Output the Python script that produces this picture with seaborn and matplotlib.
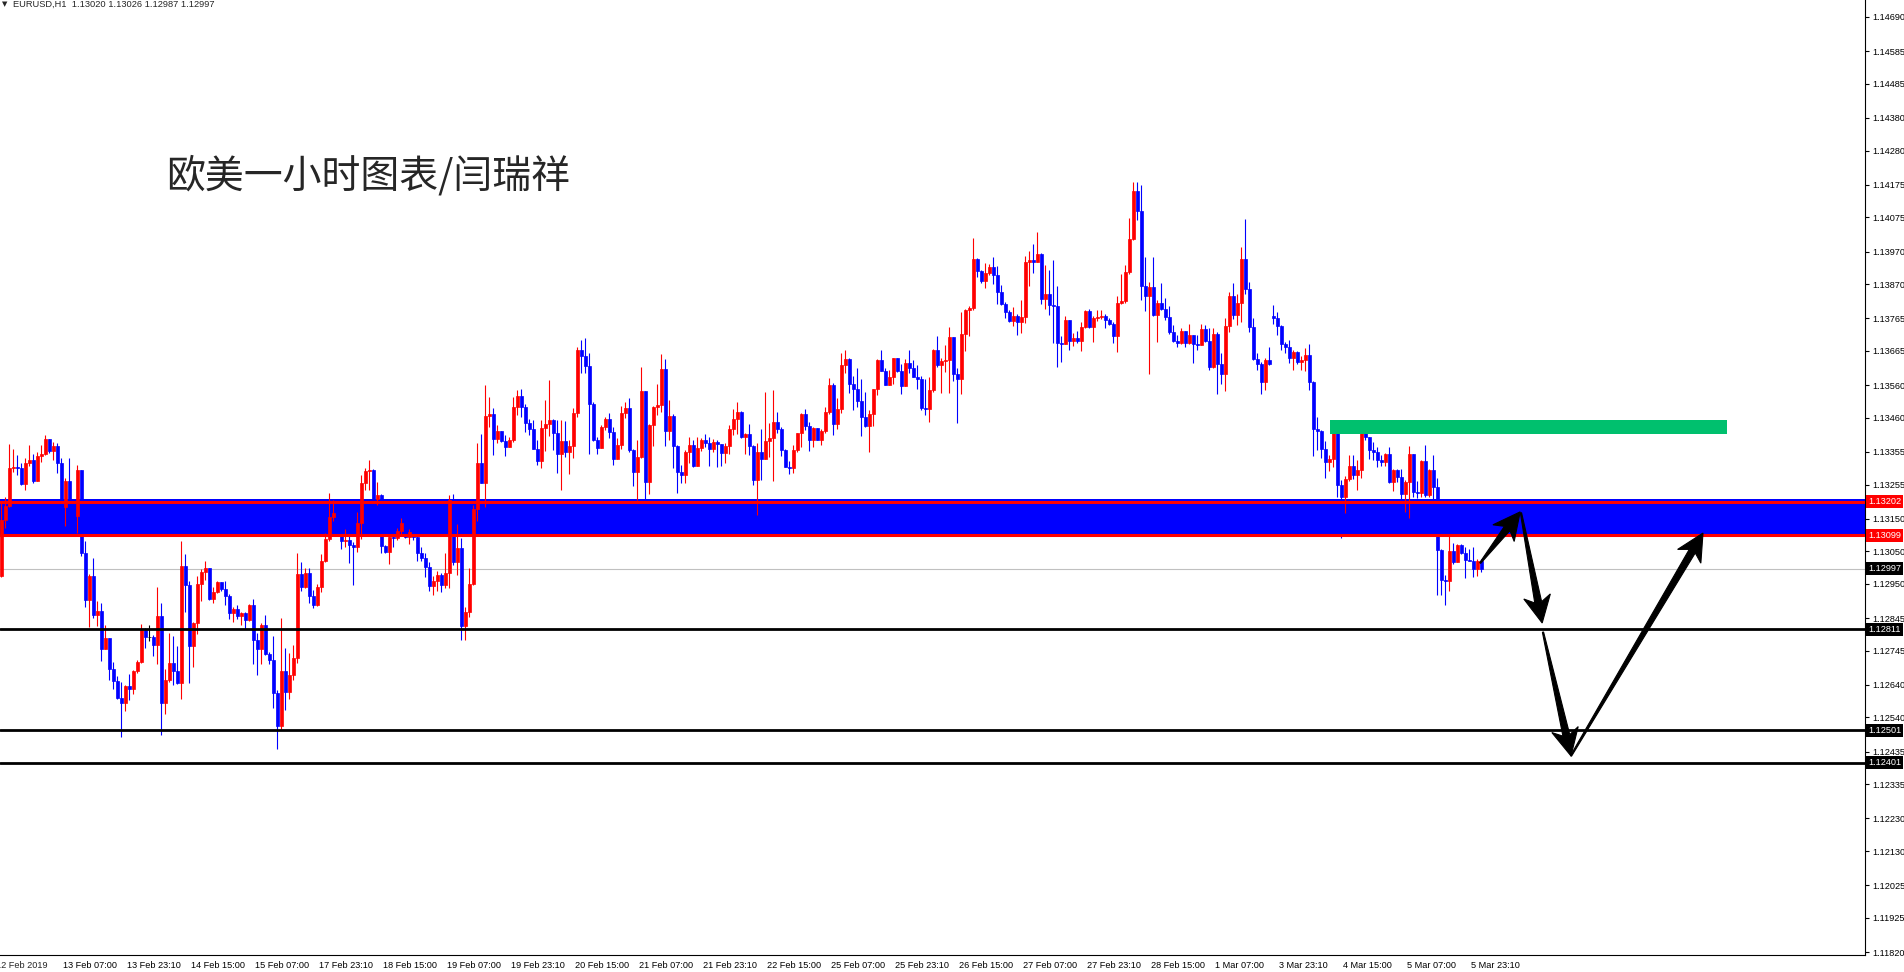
import numpy as np
import matplotlib
matplotlib.use("Agg")
import matplotlib.pyplot as plt
import seaborn as sns
from matplotlib.patches import Polygon, Rectangle
from matplotlib.transforms import IdentityTransform, ScaledTranslation, blended_transform_factory

# EURUSD H1, 12 Feb - 5 Mar 2019 (oldest bar first)
close = [
    1.13146, 1.13190, 1.13306, 1.13309, 1.13306, 1.13257, 1.13321, 1.13330, 1.13266, 1.13343,
    1.13349, 1.13395, 1.13358, 1.13373, 1.13321, 1.13187, 1.13266, 1.13193, 1.13159, 1.13300,
    1.13045, 1.12901, 1.12974, 1.12855, 1.12867, 1.12750, 1.12784, 1.12689, 1.12652, 1.12600,
    1.12585, 1.12637, 1.12627, 1.12683, 1.12710, 1.12808, 1.12787, 1.12787, 1.12762, 1.12851,
    1.12585, 1.12655, 1.12707, 1.12683, 1.12646, 1.13005, 1.12946, 1.12759, 1.12830, 1.12950,
    1.12987, 1.12999, 1.12904, 1.12925, 1.12956, 1.12934, 1.12913, 1.12861, 1.12873, 1.12851,
    1.12861, 1.12839, 1.12886, 1.12778, 1.12750, 1.12824, 1.12735, 1.12716, 1.12615, 1.12514,
    1.12683, 1.12618, 1.12670, 1.12722, 1.12980, 1.12940, 1.12983, 1.12913, 1.12886, 1.12940,
    1.13020, 1.13088, 1.13156, 1.13168, 1.13115, 1.13082, 1.13085, 1.13069, 1.13063, 1.13137,
    1.13260, 1.13297, 1.13300, 1.13211, 1.13223, 1.13066, 1.13048, 1.13094, 1.13090, 1.13112,
    1.13137, 1.13094, 1.13109, 1.13094, 1.13045, 1.13029, 1.13002, 1.12943, 1.12959, 1.12977,
    1.12946, 1.12984, 1.13208, 1.13017, 1.13060, 1.12821, 1.12864, 1.12950, 1.13180, 1.13321,
    1.13260, 1.13465, 1.13471, 1.13395, 1.13419, 1.13389, 1.13370, 1.13392, 1.13493, 1.13526,
    1.13493, 1.13444, 1.13425, 1.13364, 1.13327, 1.13428, 1.13441, 1.13453, 1.13413, 1.13349,
    1.13389, 1.13355, 1.13373, 1.13475, 1.13668, 1.13650, 1.13619, 1.13502, 1.13392, 1.13367,
    1.13431, 1.13456, 1.13416, 1.13333, 1.13376, 1.13475, 1.13490, 1.13361, 1.13294, 1.13340,
    1.13542, 1.13263, 1.13438, 1.13493, 1.13499, 1.13609, 1.13419, 1.13465, 1.13373, 1.13294,
    1.13285, 1.13355, 1.13376, 1.13312, 1.13367, 1.13392, 1.13383, 1.13364, 1.13386, 1.13380,
    1.13352, 1.13373, 1.13425, 1.13456, 1.13478, 1.13401, 1.13410, 1.13373, 1.13269, 1.13355,
    1.13333, 1.13389, 1.13398, 1.13447, 1.13425, 1.13361, 1.13309, 1.13306, 1.13361, 1.13413,
    1.13471, 1.13435, 1.13392, 1.13428, 1.13392, 1.13419, 1.13478, 1.13560, 1.13441, 1.13487,
    1.13622, 1.13640, 1.13563, 1.13548, 1.13511, 1.13462, 1.13435, 1.13471, 1.13548, 1.13637,
    1.13603, 1.13560, 1.13585, 1.13643, 1.13603, 1.13557, 1.13628, 1.13612, 1.13585, 1.13579,
    1.13490, 1.13487, 1.13545, 1.13668, 1.13622, 1.13634, 1.13637, 1.13708, 1.13594, 1.13579,
    1.13717, 1.13791, 1.13797, 1.13947, 1.13910, 1.13880, 1.13904, 1.13923, 1.13898, 1.13846,
    1.13809, 1.13785, 1.13757, 1.13772, 1.13754, 1.13769, 1.13938, 1.13944, 1.13938, 1.13963,
    1.13824, 1.13840, 1.13806, 1.13803, 1.13689, 1.13686, 1.13760, 1.13696, 1.13705, 1.13696,
    1.13739, 1.13788, 1.13739, 1.13766, 1.13769, 1.13772, 1.13760, 1.13748, 1.13711, 1.13812,
    1.13818, 1.13907, 1.14009, 1.14156, 1.14095, 1.13864, 1.13834, 1.13861, 1.13775, 1.13812,
    1.13794, 1.13769, 1.13723, 1.13696, 1.13689, 1.13726, 1.13689, 1.13714, 1.13686, 1.13683,
    1.13732, 1.13696, 1.13616, 1.13717, 1.13625, 1.13594, 1.13742, 1.13834, 1.13775, 1.13812,
    1.13947, 1.13855, 1.13739, 1.13640, 1.13625, 1.13570, 1.13637, 1.13625, 1.13766, 1.13742,
    1.13686, 1.13677, 1.13643, 1.13662, 1.13631, 1.13637, 1.13653, 1.13570, 1.13425, 1.13419,
    1.13364, 1.13324, 1.13333, 1.13422, 1.13254, 1.13217, 1.13272, 1.13312, 1.13285, 1.13300,
    1.13419, 1.13401, 1.13361, 1.13355, 1.13330, 1.13324, 1.13349, 1.13263, 1.13300, 1.13278,
    1.13226, 1.13263, 1.13349, 1.13232, 1.13229, 1.13327, 1.13223, 1.13300, 1.13248, 1.13054,
    1.12962, 1.12959, 1.13051, 1.13017, 1.13069, 1.13045, 1.13023, 1.13020, 1.12996, 1.13020,
    1.12997,
]
high = [
    1.13199, 1.13217, 1.13380, 1.13364, 1.13346, 1.13321, 1.13336, 1.13376, 1.13349, 1.13355,
    1.13376, 1.13407, 1.13395, 1.13386, 1.13383, 1.13336, 1.13275, 1.13336, 1.13199, 1.13315,
    1.13300, 1.13082, 1.12980, 1.13029, 1.12898, 1.12892, 1.12824, 1.12784, 1.12710, 1.12667,
    1.12649, 1.12640, 1.12674, 1.12686, 1.12716, 1.12827, 1.12815, 1.12824, 1.12793, 1.12940,
    1.12892, 1.12689, 1.12799, 1.12790, 1.12759, 1.13082, 1.13042, 1.12959, 1.12833, 1.12974,
    1.12996, 1.13020, 1.12999, 1.12940, 1.12959, 1.12956, 1.12959, 1.12919, 1.12879, 1.12886,
    1.12864, 1.12864, 1.12889, 1.12904, 1.12799, 1.12830, 1.12855, 1.12741, 1.12790, 1.12624,
    1.12845, 1.12753, 1.12738, 1.12762, 1.13045, 1.13017, 1.12999, 1.12999, 1.12931, 1.12950,
    1.13042, 1.13106, 1.13229, 1.13208, 1.13183, 1.13109, 1.13118, 1.13106, 1.13079, 1.13171,
    1.13285, 1.13306, 1.13330, 1.13303, 1.13263, 1.13226, 1.13069, 1.13100, 1.13124, 1.13121,
    1.13152, 1.13140, 1.13118, 1.13121, 1.13100, 1.13063, 1.13045, 1.13017, 1.12974, 1.12990,
    1.12984, 1.13045, 1.13223, 1.13226, 1.13134, 1.13091, 1.12879, 1.12999, 1.13193, 1.13383,
    1.13410, 1.13560, 1.13523, 1.13490, 1.13438, 1.13419, 1.13407, 1.13401, 1.13523, 1.13545,
    1.13548, 1.13502, 1.13456, 1.13453, 1.13392, 1.13453, 1.13514, 1.13576, 1.13456, 1.13453,
    1.13453, 1.13450, 1.13392, 1.13490, 1.13677, 1.13699, 1.13705, 1.13659, 1.13508, 1.13401,
    1.13438, 1.13462, 1.13475, 1.13431, 1.13398, 1.13496, 1.13508, 1.13520, 1.13364, 1.13392,
    1.13615, 1.13539, 1.13441, 1.13496, 1.13563, 1.13655, 1.13640, 1.13514, 1.13471, 1.13376,
    1.13315, 1.13361, 1.13401, 1.13392, 1.13401, 1.13398, 1.13410, 1.13401, 1.13395, 1.13392,
    1.13380, 1.13383, 1.13438, 1.13487, 1.13508, 1.13481, 1.13413, 1.13441, 1.13376, 1.13383,
    1.13425, 1.13539, 1.13444, 1.13545, 1.13478, 1.13431, 1.13364, 1.13327, 1.13376, 1.13413,
    1.13475, 1.13487, 1.13447, 1.13431, 1.13428, 1.13425, 1.13493, 1.13582, 1.13566, 1.13520,
    1.13659, 1.13668, 1.13643, 1.13588, 1.13612, 1.13579, 1.13539, 1.13484, 1.13548, 1.13640,
    1.13668, 1.13612, 1.13606, 1.13643, 1.13643, 1.13625, 1.13640, 1.13668, 1.13637, 1.13622,
    1.13588, 1.13579, 1.13585, 1.13671, 1.13711, 1.13643, 1.13683, 1.13738, 1.13708, 1.13612,
    1.13785, 1.13794, 1.13803, 1.14012, 1.13950, 1.13913, 1.13935, 1.13932, 1.13953, 1.13926,
    1.13867, 1.13815, 1.13791, 1.13800, 1.13779, 1.13821, 1.13956, 1.13972, 1.13993, 1.14030,
    1.13966, 1.13929, 1.13913, 1.13944, 1.13864, 1.13711, 1.13772, 1.13760, 1.13720, 1.13726,
    1.13754, 1.13791, 1.13794, 1.13772, 1.13791, 1.13791, 1.13779, 1.13766, 1.13754, 1.13834,
    1.13901, 1.13929, 1.14073, 1.14184, 1.14184, 1.14174, 1.13953, 1.13877, 1.13953, 1.13821,
    1.13874, 1.13827, 1.13803, 1.13745, 1.13714, 1.13736, 1.13726, 1.13748, 1.13714, 1.13714,
    1.13748, 1.13745, 1.13736, 1.13736, 1.13723, 1.13659, 1.13766, 1.13846, 1.13874, 1.13840,
    1.13984, 1.14070, 1.13877, 1.13766, 1.13659, 1.13631, 1.13643, 1.13677, 1.13806, 1.13785,
    1.13745, 1.13692, 1.13699, 1.13668, 1.13665, 1.13650, 1.13674, 1.13686, 1.13573, 1.13462,
    1.13422, 1.13389, 1.13346, 1.13438, 1.13438, 1.13269, 1.13281, 1.13346, 1.13346, 1.13330,
    1.13438, 1.13422, 1.13392, 1.13386, 1.13370, 1.13346, 1.13352, 1.13370, 1.13303, 1.13303,
    1.13303, 1.13269, 1.13373, 1.13346, 1.13266, 1.13330, 1.13376, 1.13303, 1.13346, 1.13275,
    1.13057, 1.12977, 1.13097, 1.13076, 1.13073, 1.13073, 1.13063, 1.13057, 1.13063, 1.13026,
    1.13026,
]
low = [
    1.12971, 1.13121, 1.13187, 1.13294, 1.13285, 1.13254, 1.13238, 1.13312, 1.13260, 1.13266,
    1.13324, 1.13346, 1.13352, 1.13330, 1.13291, 1.13183, 1.13128, 1.13177, 1.13140, 1.13106,
    1.13036, 1.12880, 1.12818, 1.12845, 1.12821, 1.12713, 1.12750, 1.12655, 1.12627, 1.12597,
    1.12480, 1.12560, 1.12594, 1.12612, 1.12677, 1.12707, 1.12753, 1.12775, 1.12729, 1.12704,
    1.12487, 1.12551, 1.12649, 1.12640, 1.12643, 1.12597, 1.12864, 1.12646, 1.12695, 1.12796,
    1.12898, 1.12962, 1.12901, 1.12892, 1.12922, 1.12928, 1.12886, 1.12842, 1.12833, 1.12842,
    1.12824, 1.12811, 1.12836, 1.12704, 1.12670, 1.12704, 1.12732, 1.12704, 1.12569, 1.12443,
    1.12505, 1.12563, 1.12597, 1.12655, 1.12707, 1.12928, 1.12937, 1.12892, 1.12876, 1.12883,
    1.12925, 1.13017, 1.13082, 1.13143, 1.13103, 1.13057, 1.13063, 1.13014, 1.12946, 1.13048,
    1.13088, 1.13238, 1.13238, 1.13193, 1.13193, 1.13045, 1.13045, 1.13011, 1.13063, 1.13085,
    1.13100, 1.13091, 1.13073, 1.13085, 1.13020, 1.13020, 1.12971, 1.12928, 1.12916, 1.12928,
    1.12925, 1.12937, 1.12937, 1.13008, 1.12977, 1.12778, 1.12778, 1.12848, 1.12946, 1.13143,
    1.13260, 1.13187, 1.13431, 1.13346, 1.13383, 1.13386, 1.13343, 1.13370, 1.13386, 1.13469,
    1.13462, 1.13416, 1.13407, 1.13364, 1.13315, 1.13306, 1.13358, 1.13404, 1.13361, 1.13291,
    1.13238, 1.13340, 1.13288, 1.13336, 1.13462, 1.13597, 1.13597, 1.13349, 1.13389, 1.13349,
    1.13370, 1.13422, 1.13398, 1.13315, 1.13333, 1.13364, 1.13459, 1.13355, 1.13250, 1.13208,
    1.13336, 1.13208, 1.13226, 1.13373, 1.13469, 1.13478, 1.13373, 1.13392, 1.13306, 1.13229,
    1.13260, 1.13260, 1.13321, 1.13309, 1.13327, 1.13358, 1.13370, 1.13312, 1.13355, 1.13309,
    1.13312, 1.13321, 1.13349, 1.13407, 1.13410, 1.13398, 1.13349, 1.13346, 1.13254, 1.13162,
    1.13269, 1.13333, 1.13340, 1.13266, 1.13413, 1.13343, 1.13309, 1.13288, 1.13291, 1.13355,
    1.13370, 1.13422, 1.13358, 1.13370, 1.13392, 1.13376, 1.13413, 1.13471, 1.13407, 1.13425,
    1.13475, 1.13597, 1.13536, 1.13484, 1.13493, 1.13404, 1.13431, 1.13355, 1.13435, 1.13530,
    1.13603, 1.13560, 1.13563, 1.13563, 1.13600, 1.13533, 1.13557, 1.13597, 1.13585, 1.13548,
    1.13484, 1.13469, 1.13447, 1.13539, 1.13615, 1.13536, 1.13600, 1.13536, 1.13573, 1.13444,
    1.13533, 1.13665, 1.13711, 1.13791, 1.13892, 1.13874, 1.13858, 1.13898, 1.13870, 1.13809,
    1.13806, 1.13766, 1.13754, 1.13742, 1.13714, 1.13720, 1.13751, 1.13864, 1.13904, 1.13938,
    1.13809, 1.13794, 1.13775, 1.13689, 1.13616, 1.13631, 1.13686, 1.13668, 1.13680, 1.13689,
    1.13665, 1.13736, 1.13736, 1.13692, 1.13757, 1.13763, 1.13736, 1.13745, 1.13689, 1.13662,
    1.13809, 1.13812, 1.13901, 1.14006, 1.14067, 1.13821, 1.13788, 1.13594, 1.13772, 1.13692,
    1.13791, 1.13760, 1.13717, 1.13692, 1.13677, 1.13686, 1.13677, 1.13686, 1.13628, 1.13668,
    1.13686, 1.13692, 1.13606, 1.13612, 1.13533, 1.13563, 1.13542, 1.13723, 1.13763, 1.13745,
    1.13754, 1.13840, 1.13723, 1.13637, 1.13606, 1.13533, 1.13545, 1.13622, 1.13748, 1.13714,
    1.13668, 1.13659, 1.13628, 1.13606, 1.13625, 1.13606, 1.13603, 1.13545, 1.13343, 1.13361,
    1.13336, 1.13275, 1.13297, 1.13309, 1.13217, 1.13091, 1.13168, 1.13266, 1.13272, 1.13238,
    1.13275, 1.13392, 1.13333, 1.13330, 1.13309, 1.13312, 1.13312, 1.13260, 1.13235, 1.13263,
    1.13211, 1.13171, 1.13152, 1.13217, 1.13214, 1.13217, 1.13217, 1.13217, 1.13208, 1.12916,
    1.12916, 1.12886, 1.12928, 1.13011, 1.13017, 1.13042, 1.12968, 1.13020, 1.12971, 1.12974,
    1.12987,
]
first_open = 1.12974
gap_open = {318: 1.13772}  # weekend gap (Sunday open)

xtick_labels = ["13 Feb 07:00", "13 Feb 23:10", "14 Feb 15:00", "15 Feb 07:00",
                "17 Feb 23:10", "18 Feb 15:00", "19 Feb 07:00", "19 Feb 23:10",
                "20 Feb 15:00", "21 Feb 07:00", "21 Feb 23:10", "22 Feb 15:00",
                "25 Feb 07:00", "25 Feb 23:10", "26 Feb 15:00", "27 Feb 07:00",
                "27 Feb 23:10", "28 Feb 15:00", "1 Mar 07:00", "3 Mar 23:10",
                "4 Mar 15:00", "5 Mar 07:00", "5 Mar 23:10"]
xtick_bars = list(range(15, 15 + 16 * len(xtick_labels), 16))

ytick_vals = [1.14690, 1.14585, 1.14485, 1.14380, 1.14280, 1.14175, 1.14075, 1.13970,
              1.13870, 1.13765, 1.13665, 1.13560, 1.13460, 1.13355, 1.13255, 1.13150,
              1.13050, 1.12950, 1.12845, 1.12745, 1.12640, 1.12540, 1.12435, 1.12335,
              1.12230, 1.12130, 1.12025, 1.11925, 1.11820]

# drawn objects on the chart
zone_low, zone_high = 1.13099, 1.13211          # blue rectangle
red_levels = [1.13202, 1.13099]
black_levels = [1.12811, 1.12501, 1.12401]
bid = 1.12997
green_zone = (332.2, 431.4, 1.13410, 1.13453)   # bar from, bar to, price lo, price hi
arrows = [((369.7, 1.13014), (379.7, 1.13171)),
          ((379.9, 1.13168), (385.2, 1.12830)),
          ((385.4, 1.12802), (392.4, 1.12422)),
          ((392.4, 1.12422), (425.4, 1.13106))]

assert len(close) == len(high) == len(low)

RED, BLUE = "#ff0000", "#0000ff"
W, H, DPI = 1904, 972, 100

sns.set_style("white")
plt.rcParams["font.family"] = ["Liberation Sans", "DejaVu Sans"]

fig = plt.figure(figsize=(W / DPI, H / DPI), dpi=DPI)
ax = fig.add_axes([0, 17 / H, 1865 / W, 955 / H])
ax.set_xlim(-0.325, 465.9)
ax.set_ylim(1.11811, 1.14742)

c = np.array(close)
o = np.r_[first_open, c[:-1]]
for i, v in gap_open.items():
    o[i] = v
hi = np.maximum(np.array(high), np.maximum(o, c))
lo = np.minimum(np.array(low), np.minimum(o, c))
x = np.arange(len(c))
cols = np.where(c > o, RED, np.where(c < o, BLUE, "black"))

# levels behind candles
ax.axhline(bid, color="#c0c0c0", lw=0.8, zorder=1)
ax.axhspan(zone_low, zone_high, color=BLUE, lw=0, zorder=1.5)

# candles
ax.vlines(x, lo, hi, colors=cols, lw=0.8, zorder=2)
ax.bar(x, np.abs(c - o), bottom=np.minimum(o, c), width=0.72, color=cols,
       edgecolor=cols, linewidth=0.5, zorder=3)

for lv in red_levels:
    ax.axhline(lv, color=RED, lw=2.2, zorder=4)
for lv in black_levels:
    ax.axhline(lv, color="black", lw=2.0, zorder=4)

gx0, gx1, gy0, gy1 = green_zone
ax.add_patch(Rectangle((gx0, gy0), gx1 - gx0, gy1 - gy0, color="#00c06e", lw=0, zorder=5))


def draw_arrow(tail, tip, head_len=27, head_w=27, shaft_w=7, tail_w=1.2):
    p0 = ax.transData.transform(tail)
    p1 = ax.transData.transform(tip)
    u = (p1 - p0) / np.hypot(*(p1 - p0))
    n = np.array([-u[1], u[0]])
    base = p1 - u * head_len
    neck = p1 - u * head_len * 0.78
    pts = [p0 + n * tail_w / 2, neck + n * shaft_w / 2, base + n * head_w / 2, p1,
           base - n * head_w / 2, neck - n * shaft_w / 2, p0 - n * tail_w / 2]
    ax.add_patch(Polygon(pts, closed=True, transform=IdentityTransform(),
                         facecolor="black", edgecolor="black", lw=0.8, zorder=6))


for tail, tip in arrows:
    draw_arrow(tail, tip)

# axes in MT4 style
sns.despine(ax=ax, top=True, left=True, right=False, bottom=False)
for side in ("right", "bottom"):
    ax.spines[side].set_color("black")
    ax.spines[side].set_linewidth(0.8)
ax.grid(False)

ax.yaxis.tick_right()
ax.set_yticks(ytick_vals)
ax.set_yticklabels([f"{v:.5f}" for v in ytick_vals])
ax.tick_params(axis="y", direction="out", length=3, width=0.8, pad=2,
               labelsize=6.6, colors="black", right=True, left=False)

ax.set_xticks(xtick_bars)
ax.set_xticklabels(xtick_labels)
ax.tick_params(axis="x", direction="out", length=3, width=0.8, pad=1,
               labelsize=6.6, colors="black")
shift = ScaledTranslation(2 / DPI, 0, fig.dpi_scale_trans)
for lab in ax.get_xticklabels():
    lab.set_horizontalalignment("left")
    lab.set_transform(lab.get_transform() + shift)

# price tags on the right scale
tag_tr = blended_transform_factory(ax.transAxes, ax.transData) + \
    ScaledTranslation(3 / DPI, 0, fig.dpi_scale_trans)
tags = [(lv, RED) for lv in red_levels] + [(bid, "black")] + [(lv, "black") for lv in black_levels]
for lv, fc in tags:
    ax.text(1.0, lv, f"{lv:.5f}", transform=tag_tr, ha="left", va="center",
            color="white", fontsize=6.6, clip_on=False, zorder=7,
            bbox=dict(boxstyle="square,pad=0.22", fc=fc, ec="none"))

# header and title (first date label is clipped at the left edge, as in MT4)
fig.text(-4 / W, 1 - 965 / H, "12 Feb 2019", fontsize=6.6, ha="left", va="center")
fig.text(2 / W, 1 - 4 / H, "▼", fontsize=5, ha="left", va="center",
         family=["DejaVu Sans"])
fig.text(13 / W, 1 - 4 / H, "EURUSD,H1  1.13020 1.13026 1.12987 1.12997",
         fontsize=6.7, ha="left", va="center")
fig.text(166 / W, 1 - 176 / H, "欧美一小时图表/闫瑞祥", fontsize=28, ha="left",
         va="center", family=["Noto Sans CJK SC", "DejaVu Sans"])

fig.savefig("out.png", dpi=DPI, facecolor="white")
